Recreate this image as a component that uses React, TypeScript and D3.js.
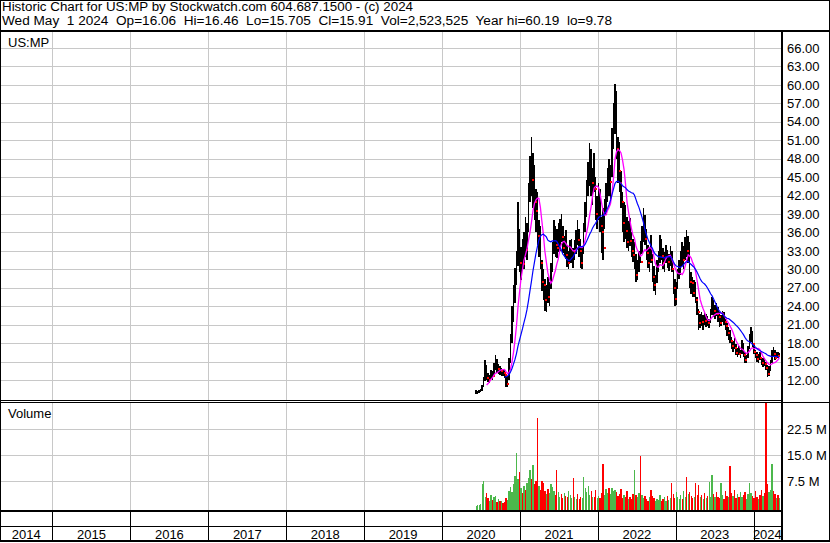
import * as d3 from 'd3'
import * as React from 'react'

// weekly bars, first one the week of Jun 9 2020, last one the week of Apr 29 2024
const firstWeek = new Date(2020, 5, 9)

const weekHigh = [
  10.3, 10.2, 10.4, 10.6, 11.2, 12.5, 15.2, 14.5, 13.2, 12.8, 13.6, 13.4, 14.8, 16.0, 15.4, 14.6, 14.3, 14.0, 13.8, 13.6,
  13.0, 12.6, 15.5, 19.5, 24.0, 27.5, 30.2, 33.0, 41.0, 36.5, 33.6, 35.0, 36.0, 38.5, 37.5, 44.0, 48.5, 51.5, 49.0, 47.0,
  43.0, 42.5, 38.0, 37.0, 31.5, 30.0, 28.5, 27.5, 28.8, 28.0, 31.0, 34.5, 38.0, 37.0, 36.5, 37.5, 38.2, 39.0, 37.0, 35.5,
  36.4, 34.0, 33.0, 34.8, 35.0, 33.5, 34.8, 36.4, 38.0, 36.5, 35.0, 33.8, 37.5, 41.0, 44.5, 47.5, 50.5, 49.5, 46.5, 49.0,
  45.0, 42.0, 44.0, 43.0, 38.5, 40.0, 41.5, 44.0, 46.5, 48.0, 47.0, 53.0, 57.0, 60.2, 59.0, 51.5, 50.7, 46.0, 42.6, 41.0,
  40.5, 38.5, 37.8, 38.3, 36.0, 35.0, 34.4, 32.5, 31.5, 33.0, 34.6, 37.0, 40.0, 38.8, 36.5, 34.0, 33.5, 35.6, 32.5, 30.5,
  29.0, 31.5, 33.0, 35.6, 35.0, 33.5, 32.8, 34.0, 33.2, 32.5, 33.8, 33.0, 30.2, 28.5, 28.0, 30.0, 31.5, 33.0, 34.5, 33.8,
  35.2, 36.4, 35.5, 34.5, 29.5, 28.8, 28.2, 28.0, 25.5, 23.5, 22.8, 23.0, 22.5, 23.0, 22.8, 22.4, 22.0, 23.5, 25.5, 25.0,
  24.2, 24.5, 23.9, 23.0, 22.6, 23.2, 23.0, 22.0, 21.2, 20.6, 20.2, 19.0, 18.4, 18.8, 17.8, 17.2, 17.5, 16.8, 18.5, 18.0,
  16.5, 16.0, 17.5, 19.5, 20.6, 20.0, 18.0, 16.9, 16.5, 16.2, 16.6, 15.8, 15.5, 15.6, 15.0, 14.5, 14.2, 15.2, 16.8, 17.4,
  16.8, 16.5, 16.6, 16.46,
]

const weekLow = [
  9.8, 9.8, 9.9, 10.0, 10.2, 10.8, 11.8, 12.0, 11.6, 11.5, 12.2, 12.0, 12.5, 13.6, 13.2, 13.0, 12.8, 12.6, 12.6, 12.4,
  10.9, 10.8, 12.0, 14.8, 18.0, 21.5, 24.5, 27.5, 30.5, 29.5, 28.2, 29.8, 30.0, 32.0, 31.5, 36.0, 41.0, 42.0, 40.0, 38.0,
  36.0, 34.0, 32.0, 30.0, 26.5, 25.0, 23.2, 23.0, 24.5, 24.0, 26.8, 29.5, 32.5, 32.0, 31.8, 32.8, 33.0, 34.5, 32.6, 32.0,
  31.6, 30.4, 30.0, 31.0, 31.0, 30.2, 31.5, 32.5, 34.0, 32.0, 30.2, 30.0, 32.5, 36.0, 38.5, 42.0, 43.5, 42.0, 40.5, 42.5,
  38.0, 36.5, 38.0, 36.0, 32.7, 31.5, 36.5, 38.8, 41.0, 42.0, 41.5, 45.0, 49.5, 52.0, 48.0, 44.0, 42.5, 40.0, 36.0, 34.5,
  35.0, 33.5, 33.0, 33.8, 32.0, 31.2, 30.0, 28.0, 28.2, 29.5, 31.0, 32.5, 34.5, 34.0, 31.5, 30.2, 29.5, 31.0, 28.0, 26.5,
  25.8, 27.8, 29.6, 31.0, 31.5, 30.0, 29.6, 31.0, 30.2, 29.8, 30.5, 29.5, 26.0, 24.0, 24.2, 26.8, 28.5, 29.0, 30.5, 30.0,
  31.5, 32.0, 31.0, 27.0, 26.0, 25.5, 25.5, 24.5, 22.5, 20.2, 20.5, 20.8, 20.2, 21.0, 20.6, 20.8, 20.5, 21.2, 22.5, 22.2,
  22.0, 22.4, 21.5, 20.6, 20.8, 21.5, 21.0, 20.2, 19.2, 18.5, 18.0, 17.0, 16.5, 17.0, 16.0, 15.7, 16.0, 15.6, 16.2, 15.8,
  14.8, 14.8, 15.5, 17.0, 18.2, 17.4, 16.2, 15.5, 15.0, 14.8, 15.2, 14.5, 14.1, 14.2, 13.6, 12.5, 12.6, 13.4, 14.8, 15.8,
  15.2, 15.4, 15.5, 15.705,
]

const weekClose = [
  10.0, 10.0, 10.1, 10.3, 10.9, 12.2, 13.5, 12.4, 12.0, 12.5, 13.2, 12.6, 14.2, 14.6, 13.8, 14.1, 13.4, 13.5, 13.2, 12.8,
  11.4, 12.2, 15.0, 18.6, 22.5, 26.0, 29.0, 31.5, 36.0, 31.0, 32.5, 30.8, 34.8, 33.2, 36.5, 42.5, 46.0, 44.5, 47.0, 41.0,
  39.5, 35.5, 36.4, 31.0, 28.0, 27.5, 25.0, 26.8, 25.5, 27.6, 30.5, 33.8, 35.0, 34.0, 33.5, 33.8, 36.8, 35.2, 33.5, 34.6,
  32.4, 31.0, 32.2, 33.5, 33.8, 32.8, 34.0, 35.6, 34.8, 33.0, 31.0, 33.2, 36.8, 40.2, 43.6, 45.0, 47.8, 44.0, 45.5, 43.0,
  39.0, 40.5, 41.5, 37.0, 36.0, 33.5, 40.0, 43.2, 45.0, 44.2, 46.5, 51.5, 55.0, 58.0, 49.5, 46.0, 44.0, 41.0, 37.5, 39.5,
  36.2, 34.5, 36.5, 34.6, 33.0, 32.4, 33.8, 29.0, 30.8, 32.2, 31.2, 36.0, 37.5, 35.0, 32.6, 31.0, 32.8, 31.5, 28.8, 27.4,
  28.4, 30.8, 32.0, 34.5, 32.2, 31.0, 32.2, 32.5, 31.2, 31.8, 32.8, 30.0, 27.0, 25.2, 27.5, 29.5, 30.4, 32.2, 31.5, 33.4,
  34.6, 33.0, 34.2, 28.0, 27.8, 26.2, 27.6, 25.0, 23.0, 21.2, 22.0, 21.4, 22.2, 21.6, 21.8, 21.2, 21.9, 23.0, 24.6, 23.2,
  23.8, 22.8, 22.2, 21.2, 22.3, 22.8, 21.4, 20.8, 19.6, 19.8, 18.4, 17.5, 17.8, 17.2, 16.4, 16.8, 16.3, 16.5, 17.8, 16.0,
  15.2, 15.6, 17.2, 18.8, 19.5, 17.8, 16.6, 16.0, 15.4, 15.8, 15.5, 14.8, 15.2, 14.6, 14.0, 13.0, 13.8, 15.0, 16.4, 16.2,
  15.6, 16.1, 15.9, 15.91,
]

// weekly volume, millions
const weekVolM = [
  0.4, 0.6, 0.5, 0.8, 6.5, 7.5, 3.0, 4.0, 2.5, 1.8, 3.5, 2.0, 2.8, 3.2, 1.5, 2.2, 1.6, 1.8, 1.2, 1.5,
  2.6, 2.0, 4.5, 5.8, 4.2, 6.5, 9.0, 15.7, 8.0, 10.0, 5.5, 4.0, 6.2, 4.8, 7.0, 8.5, 10.7, 8.0, 12.0, 6.5,
  7.5, 25.7, 6.0, 5.0, 7.5, 6.8, 4.5, 3.8, 5.2, 4.0, 6.5, 5.8, 4.5, 3.5, 10.8, 4.2, 3.0, 3.8, 2.5, 4.0,
  3.2, 2.8, 4.5, 3.5, 2.6, 8.5, 3.0, 2.4, 3.8, 2.2, 3.0, 2.5, 8.7, 5.5, 4.2, 6.0, 3.6, 4.5, 3.0, 2.8,
  4.8, 2.5, 3.2, 2.6, 4.0, 12.5, 3.5, 5.2, 4.0, 5.6, 3.8, 5.6, 4.6, 5.0, 4.4, 3.2, 3.8, 5.2, 2.6, 3.4,
  2.8, 4.5, 2.2, 3.0, 2.4, 3.8, 10.8, 3.6, 2.8, 4.0, 14.8, 3.4, 2.6, 3.2, 2.4, 1.8, 2.8, 5.0, 3.2, 2.6,
  1.8, 2.4, 2.0, 3.4, 1.6, 2.2, 2.8, 1.8, 3.2, 2.0, 2.6, 7.0, 3.8, 2.6, 4.2, 3.0, 2.2, 3.6, 2.4, 4.6,
  3.0, 8.6, 3.8, 4.4, 3.2, 2.6, 3.0, 7.0, 3.6, 6.3, 2.8, 3.4, 2.4, 4.0, 2.6, 3.2, 7.3, 3.0, 9.1, 3.8,
  2.8, 4.2, 3.0, 2.6, 7.0, 3.6, 2.4, 4.6, 3.2, 2.8, 11.7, 4.0, 3.2, 4.8, 2.6, 3.8, 3.0, 4.4, 2.8, 3.6,
  4.2, 2.4, 3.8, 7.0, 4.0, 3.2, 2.6, 4.6, 3.0, 2.4, 3.6, 4.8, 3.2, 4.0, 33.0, 6.6, 4.2, 5.0, 12.3, 4.6,
  3.8, 2.6, 3.4, 2.5,
]

const priceTicks = [12, 15, 18, 21, 24, 27, 30, 33, 36, 39, 42, 45, 48, 51, 54, 57, 60, 63, 66]
const volTicks = [7.5, 15, 22.5]
const years = [2014, 2015, 2016, 2017, 2018, 2019, 2020, 2021, 2022, 2023, 2024]

const headLine1 = 'Historic Chart for US:MP by Stockwatch.com 604.687.1500 - (c) 2024'
const headLine2 = 'Wed May  1 2024  Op=16.06  Hi=16.46  Lo=15.705  Cl=15.91  Vol=2,523,525  Year hi=60.19  lo=9.78'

const FONT = '"Liberation Sans", Arial, sans-serif'
const GRID = '#c8c8c8'
const PLOT_R = 781

export default function App() {
  const x = d3.scaleTime()
    .domain([new Date(2014, 3, 30), new Date(2024, 4, 8)])
    .range([0, PLOT_R])
  const y = d3.scaleLinear().domain([12, 66]).range([380, 48])
  const yv = d3.scaleLinear().domain([0, 30]).range([507, 403])

  const dates = weekClose.map((_, i) => d3.timeWeek.offset(firstWeek, i))

  // simple moving averages of the weekly closes
  const sma = (n: number) => weekClose.map((_, i) =>
    i < n - 1 ? null : d3.mean(weekClose.slice(i - n + 1, i + 1)) as number)
  const maShort = sma(8)
  const maLong = sma(20)

  const maLine = d3.line<number | null>()
    .defined(d => d != null)
    .x((_, i) => x(dates[i]))
    .y(d => y(d as number))

  const yearStarts = years.slice(1).map(yr => x(new Date(yr, 0, 1)))
  const yearCells = years.map(yr => {
    const a = Math.max(0, x(new Date(yr, 0, 1)))
    const b = Math.min(PLOT_R, x(new Date(yr + 1, 0, 1)))
    return { yr, cx: (a + b) / 2 }
  })

  const isUp = (i: number) => i === 0 || weekClose[i] >= weekClose[i - 1]

  return (
    <div style={{ position: 'absolute', left: 0, top: 0 }}>
      <svg width={830} height={543} style={{ display: 'block', background: '#fff' }} fontFamily={FONT}>
        <defs>
          <clipPath id="pclip"><rect x={1} y={32} width={PLOT_R - 1} height={368} /></clipPath>
          <clipPath id="vclip"><rect x={1} y={403} width={PLOT_R - 1} height={107} /></clipPath>
        </defs>

        {/* header */}
        <text x={2} y={11} fontSize={12} fill="#000" textLength={411} lengthAdjust="spacingAndGlyphs">{headLine1}</text>
        <text x={2} y={24.5} fontSize={12} fill="#000" textLength={610} lengthAdjust="spacingAndGlyphs"
          style={{ whiteSpace: 'pre' }}>{headLine2}</text>

        {/* price grid */}
        <g stroke={GRID} strokeWidth={1} shapeRendering="crispEdges">
          {priceTicks.map(t => <line key={'h' + t} x1={1} x2={PLOT_R} y1={Math.round(y(t)) + 0.5} y2={Math.round(y(t)) + 0.5} />)}
          {yearStarts.map((xs, i) => <line key={'pv' + i} x1={Math.round(xs) + 0.5} x2={Math.round(xs) + 0.5} y1={32} y2={400} />)}
          {volTicks.map(t => <line key={'vh' + t} x1={1} x2={PLOT_R} y1={Math.round(yv(t)) + 0.5} y2={Math.round(yv(t)) + 0.5} />)}
          {yearStarts.map((xs, i) => <line key={'vv' + i} x1={Math.round(xs) + 0.5} x2={Math.round(xs) + 0.5} y1={403} y2={510} />)}
        </g>

        {/* price bars */}
        <g clipPath="url(#pclip)" shapeRendering="crispEdges">
          {weekHigh.map((h, i) => (
            <rect key={'b' + i} x={x(dates[i]) - 0.75} width={1.5}
              y={y(h)} height={Math.max(1, y(weekLow[i]) - y(h))} fill="#000" />
          ))}
          {weekClose.map((c, i) => isUp(i) ? null : (
            <rect key={'c' + i} x={x(dates[i]) + 0.5} width={2} y={y(c) - 1} height={2} fill="#ff0000" />
          ))}
          <path d={maLine(maShort) || ''} fill="none" stroke="#ff00ff" strokeWidth={1.3} shapeRendering="auto" />
          <path d={maLine(maLong) || ''} fill="none" stroke="#0000ff" strokeWidth={1.2} shapeRendering="auto" />
        </g>

        {/* volume bars */}
        <g clipPath="url(#vclip)" shapeRendering="crispEdges">
          {weekVolM.map((v, i) => (
            <rect key={'v' + i} x={x(dates[i]) - 0.6} width={1.3}
              y={yv(v)} height={510 - yv(v)} fill={isUp(i) ? '#4cb84c' : '#ff0000'} />
          ))}
        </g>

        {/* panel labels */}
        <text x={8} y={46.5} fontSize={13} fill="#000">US:MP</text>
        <text x={8} y={418} fontSize={13} fill="#000">Volume</text>

        {/* right axis labels */}
        {priceTicks.map(t => (
          <text key={'pl' + t} x={787} y={y(t)} dy="0.36em" fontSize={13} fill="#000">{t.toFixed(2)}</text>
        ))}
        {volTicks.map(t => (
          <text key={'vl' + t} x={787} y={yv(t)} dy="0.36em" fontSize={13} fill="#000">{t.toFixed(1) + ' M'}</text>
        ))}

        {/* frame lines */}
        <g shapeRendering="crispEdges" stroke="#000">
          <rect x={0.5} y={0.5} width={829} height={541} fill="none" strokeWidth={1} />
          <line x1={0} x2={830} y1={31} y2={31} strokeWidth={2} />
          <line x1={0} x2={PLOT_R} y1={400.5} y2={400.5} strokeWidth={1} />
          <line x1={0} x2={830} y1={402.5} y2={402.5} strokeWidth={1} />
          <line x1={0} x2={PLOT_R} y1={510.5} y2={510.5} strokeWidth={2} />
          <line x1={0} x2={PLOT_R} y1={526.5} y2={526.5} strokeWidth={1} />
          <line x1={0} x2={830} y1={541} y2={541} strokeWidth={2} />
          <line x1={PLOT_R + 1} x2={PLOT_R + 1} y1={31} y2={542} strokeWidth={2} />
          {yearStarts.map((xs, i) => <line key={'yb' + i} x1={Math.round(xs) + 0.5} x2={Math.round(xs) + 0.5} y1={511} y2={541} strokeWidth={1} />)}
        </g>

        {/* year labels */}
        {yearCells.map(c => (
          <text key={'yl' + c.yr} x={c.cx} y={539} textAnchor="middle" fontSize={13} fill="#000">{c.yr}</text>
        ))}
      </svg>
    </div>
  )
}
